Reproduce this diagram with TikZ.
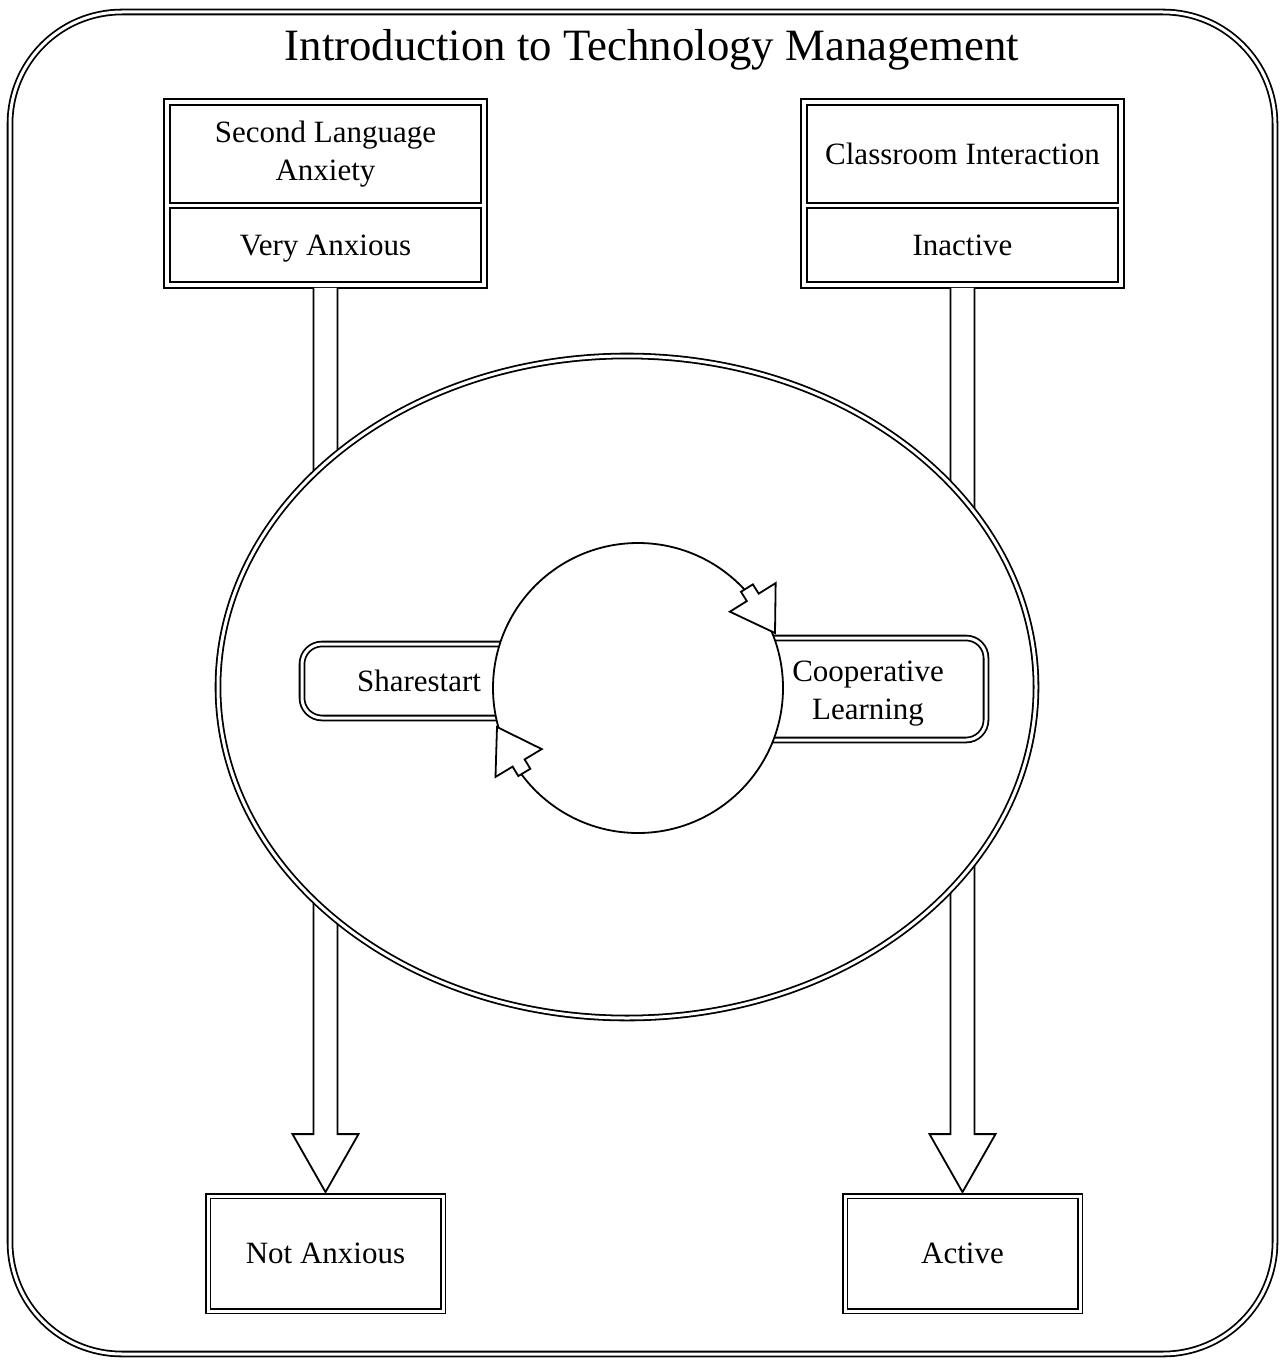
\documentclass[tikz,border=0pt]{standalone}
\usepackage{fontspec}
\setmainfont{Liberation Serif}
\usetikzlibrary{calc}

\tikzset{
  dbl/.style={double, double distance=1.5pt},
  txt/.style={align=center, font=\fontsize{15.5}{19}\selectfont},
  inbox/.style={draw, txt, minimum width=155.5pt, inner sep=2pt},
  endbox/.style={inbox, dbl, minimum width=117.5pt, minimum height=57.5pt, text depth=0pt},
  blockarrow/.style={draw, fill=white, line join=miter}
}

\begin{document}
\begin{tikzpicture}[x=0.5pt, y=-0.5pt, line width=0.9pt]
\useasboundingbox (0,0) rectangle (1284,1364);

\draw[dbl, rounded corners=56pt] (10,12) rectangle (1275,1354);
\node[font=\fontsize{22.4}{26}\selectfont] (title) at (652,50) {Introduction to Technology Management};

% top boxes
\node[inbox, minimum height=49pt] (sla) at (325.5,154) {Second Language\\Anxiety};
\node[inbox, minimum height=37pt, text depth=0pt] (va) at (325.5,245) {Very Anxious};
\node[inbox, minimum height=49pt] (ci) at (962.5,154) {Classroom Interaction};
\node[inbox, minimum height=37pt, text depth=0pt] (inact) at (962.5,245) {Inactive};
\draw ([shift={(-5,-5)}]sla.north west) rectangle ([shift={(5,5)}]va.south east);
\draw ([shift={(-5,-5)}]ci.north west) rectangle ([shift={(5,5)}]inact.south east);

% bottom boxes
\node[endbox] (notanx) at (325.5,1253.5) {Not Anxious};
\node[endbox] (active) at (962.5,1253.5) {Active};

% big arrows
\draw[blockarrow] ($(va.south)+(-12,5)$) -- ($(notanx.north)+(-12,-61)$) -- ++(-21,0)
  -- ($(notanx.north)+(0,-3)$) -- ($(notanx.north)+(33,-61)$) -- ++(-21,0) -- ($(va.south)+(12,5)$);
\draw[blockarrow] ($(inact.south)+(-12,5)$) -- ($(active.north)+(-12,-61)$) -- ++(-21,0)
  -- ($(active.north)+(0,-3)$) -- ($(active.north)+(33,-61)$) -- ++(-21,0) -- ($(inact.south)+(12,5)$);

% ellipse and cycle
\draw[dbl, fill=white] (627,687) ellipse [x radius=204.5pt, y radius=165.5pt];
\draw[dbl, rounded corners=10pt] (560,644) -- (302,644) -- (302,718) -- (560,718);
\draw[dbl, rounded corners=10pt] (720,638) -- (986,638) -- (986,740) -- (720,740);
\draw[fill=white] (638,688) circle [radius=72.5pt];
\foreach \p/\r in {{(775,633)}/-58, {(497,727)}/121}
  \draw[blockarrow, shift={\p}, rotate=\r] (0,0) -- (-42,27) -- (-42,7) -- (-53,7)
    -- (-53,-7) -- (-42,-7) -- (-42,-27) -- cycle;

\node[txt] (share) at (419,681) {Sharestart};
\node[txt] (coop) at (868,694) {Cooperative\\Learning};
\end{tikzpicture}
\end{document}
